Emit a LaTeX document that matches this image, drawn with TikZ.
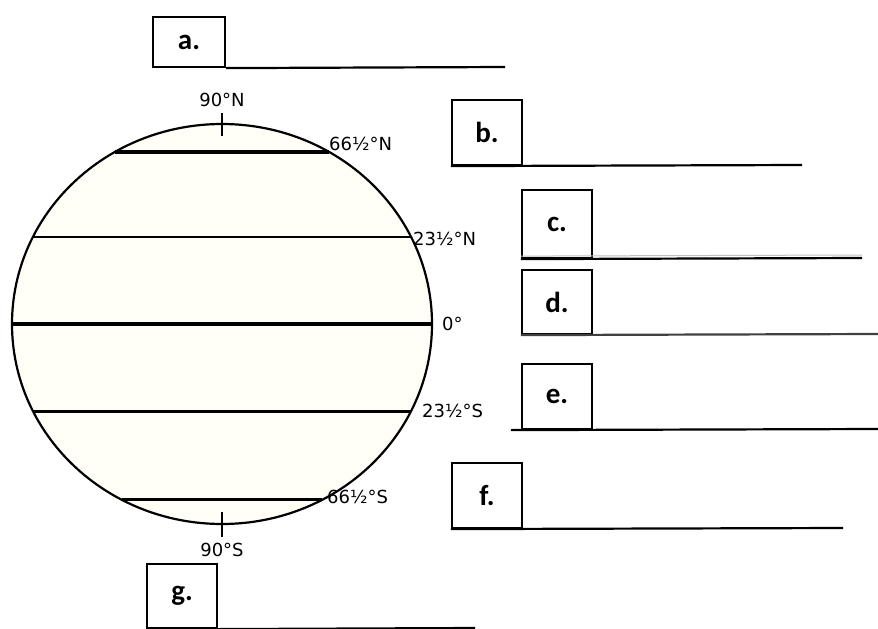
\documentclass[tikz,border=0pt]{standalone}
\usepackage{fontspec}
\setmainfont{Carlito}
\newfontfamily\latfont{DejaVu Sans}
\usetikzlibrary{positioning}

\definecolor{globefill}{RGB}{255,255,247}

\begin{document}
\begin{tikzpicture}[x=1pt, y=-1pt,
	ansbox/.style={draw, line width=2.2pt, inner sep=0pt, minimum width=70pt, font=\fontsize{29}{32}\selectfont\bfseries},
	ansline/.style={line width=2.2pt},
	latlabel/.style={inner sep=0pt, font=\latfont\fontsize{18}{20}\selectfont}]
	\useasboundingbox (0,0) rectangle (878,629);
	% globe
	\coordinate (c) at (222,324);
	\draw[line width=2.2pt, fill=globefill] (c) ellipse [x radius=210, y radius=200];
	\foreach \a/\w in {-59.3/3.2, -25.8/2.4, 0/3.4, 25.8/3, 61.6/3}
		\draw[line width=\w pt] ([shift={(180-\a:210 and 200)}]c) -- ([shift={(\a:210 and 200)}]c);
	\draw[line width=2pt] (222,113) -- (222,136);
	\draw[line width=2pt] (222,512) -- (222,537);
	% latitudes
	\node[latlabel] (n90) at (222,100) {90°N};
	\node[latlabel, anchor=west] (n66) at (329,144) {66½°N};
	\node[latlabel, anchor=west] (n23) at (413,239) {23½°N};
	\node[latlabel, anchor=west] (eq) at (442,324) {0°};
	\node[latlabel, anchor=west] (s23) at (422,411) {23½°S};
	\node[latlabel, anchor=west] (s66) at (327,497) {66½°S};
	\node[latlabel] (s90) at (222,550) {90°S};
	% answer boxes
	\node[ansbox, minimum width=72pt, minimum height=50pt] (ba) at (189,42) {a.};
	\node[ansbox, minimum height=65pt] (bb) at (487,132.5) {b.};
	\node[ansbox, minimum height=68pt] (bc) at (557,224) {c.};
	\node[ansbox, minimum height=64pt] (bd) at (557,302) {d.};
	\node[ansbox, minimum height=65pt] (be) at (557,396.5) {e.};
	\node[ansbox, minimum height=65pt] (bf) at (487,495.5) {f.};
	\node[ansbox, minimum height=64pt] (bg) at (182,596) {g.};
	% answer lines
	\coordinate (ea) at (505,67);
	\coordinate (eb) at (802,165);
	\coordinate (ec) at (862,258);
	\coordinate (ed) at (878,334);
	\coordinate (ee) at (878,429);
	\coordinate (ef) at (843,528);
	\coordinate (eg) at (475,628);
	\draw[ansline] (ba.south east) -- (ea);
	\draw[ansline] (bb.south west) -- (eb);
	\draw[ansline] (bc.south west) -- (ec);
	\draw[line width=1pt, black!25] ([yshift=3pt]bc.south west) -- ([yshift=3pt]ec);
	\draw[ansline, black!75] (bd.south west) -- (ed);
	\draw[ansline] ([xshift=-10pt]be.south west) -- (ee);
	\draw[ansline] (bf.south west) -- (ef);
	\draw[ansline] (bg.south east) -- (eg);
\end{tikzpicture}
\end{document}
